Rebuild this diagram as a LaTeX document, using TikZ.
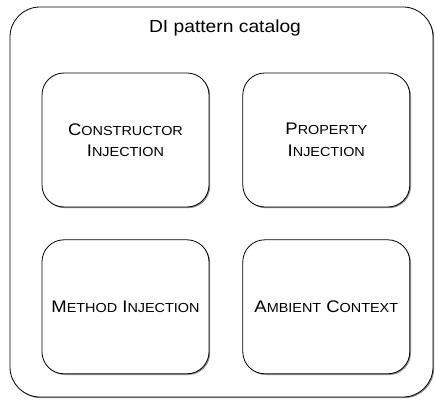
\documentclass[tikz,border=0pt]{standalone}
\usepackage{fontspec}
\setmainfont{Liberation Sans}[FakeStretch=1.1]
\usepackage{tikz}
\usetikzlibrary{positioning, shadows}

% small caps by hand: large first letter, rest smaller
\newcommand{\smcap}[2]{#1{\fontsize{13.1}{21.5}\selectfont #2}}

\begin{document}
\begin{tikzpicture}[
    x=1pt, y=1pt,
    font=\fontsize{16.8}{21.5}\selectfont,
    catalog/.style={draw, rectangle, rounded corners=30pt, minimum width=423pt, minimum height=390pt, line width=0.8pt, fill=white, drop shadow={shadow xshift=1.2pt, shadow yshift=-1.2pt, fill=black!55, opacity=0.8}},
    pattern/.style={draw, rectangle, rounded corners=22pt, minimum width=167pt, minimum height=134pt, align=center, line width=0.8pt, fill=white, drop shadow={shadow xshift=1.2pt, shadow yshift=-1.2pt, fill=black!55, opacity=0.8}},
    node distance=32pt and 33pt
]
\useasboundingbox (0,0) rectangle (435,407);

% Nodes
\node[catalog] (catalog) at (221.5,205) {};
\node[font=\fontsize{17.5}{21}\selectfont] (title) at (225,379) {DI pattern catalog};

\node[pattern] (ctor) at (125.5,267) {\smcap{C}{ONSTRUCTOR}\\\smcap{I}{NJECTION}};
\node[pattern, right=of ctor] (prop) {\smcap{P}{ROPERTY}\\\smcap{I}{NJECTION}};
\node[pattern, below=of ctor] (method) {\smcap{M}{ETHOD} \smcap{I}{NJECTION}};
\node[pattern, below=of prop] (ambient) {\smcap{A}{MBIENT} \smcap{C}{ONTEXT}};
\end{tikzpicture}
\end{document}
